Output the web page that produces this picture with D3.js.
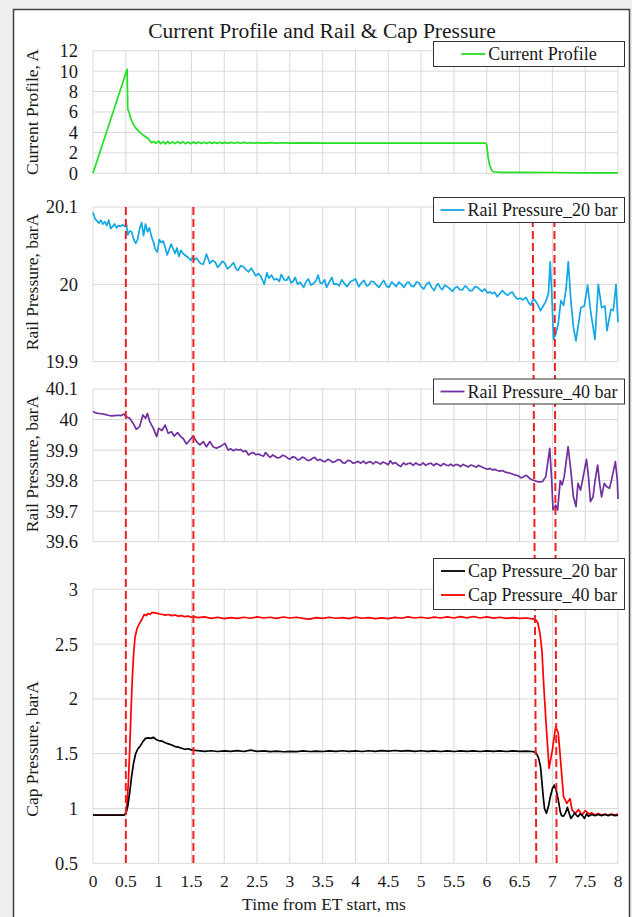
<!DOCTYPE html>
<html>
<head>
<meta charset="utf-8">
<script src="https://cdn.jsdelivr.net/npm/d3@7"></script>
<style>
  body { margin: 0; background: #efefef; }
  svg { display: block; }
</style>
</head>
<body>
<svg id="chart" width="632" height="917"></svg>
<script>
// values: [time ms, value]
const timeTicks = [0, 0.5, 1, 1.5, 2, 2.5, 3, 3.5, 4, 4.5, 5, 5.5, 6, 6.5, 7, 7.5, 8]
const currentTicks = [0, 2, 4, 6, 8, 10, 12]
const rail20Ticks = [19.9, 20, 20.1]
const rail40Ticks = [39.6, 39.7, 39.8, 39.9, 40, 40.1]
const capTicks = [0.5, 1, 1.5, 2, 2.5, 3]

// red markers (slightly slanted in the original, top -> bottom)
const markerTop = [0.5, 1.53, 6.70, 7.03]
const markerBottom = [0.5, 1.53, 6.755, 7.065]

const currentProfile = [[0,0],[0.52,10.18],[0.53,6.25],[0.545,6.05],[0.58,5.3],[0.61,4.85],[0.65,4.45],[0.69,4.15],[0.76,3.75],[0.84,3.4],[0.89,3.0],
  [0.93,3.12],[0.96,2.92],[1.0,3.15],[1.03,2.9],[1.07,3.1],[1.1,2.88],[1.14,3.12],[1.17,2.9],[1.21,3.08],[1.25,2.9],[1.29,3.1],[1.33,2.92],
  [1.37,3.08],[1.41,2.9],[1.45,3.06],[1.49,2.9],[1.53,3.07],[1.57,2.91],[1.61,3.06],[1.65,2.92],[1.69,3.05],[1.73,2.92],[1.77,3.05],[1.81,2.93],
  [1.85,3.04],[1.89,2.93],[1.93,3.04],[1.97,2.93],[2.01,3.03],[2.05,2.93],[2.1,3.03],[2.15,2.94],[2.2,3.02],[2.25,2.94],[2.3,3.02],[2.35,2.94],
  [2.4,3.01],[2.45,2.94],[2.5,3.0],[2.6,2.95],[2.7,3.0],[2.8,2.95],[2.9,2.99],[3.0,2.95],[3.2,2.97],[3.5,2.95],[4.0,2.96],[4.5,2.95],[5.0,2.96],
  [5.5,2.95],[5.98,2.95],[6.0,2.8],[6.02,1.6],[6.04,0.9],[6.07,0.35],[6.1,0.15],[6.2,0.1],[6.6,0.09],[7.0,0.08],[7.5,0.04],[7.8,0.05],[8,0.04]]

const rail20 = [[0,20.093],[0.03,20.085],[0.06,20.082],[0.09,20.079],[0.12,20.083],[0.15,20.078],[0.18,20.081],[0.21,20.076],[0.24,20.083],
  [0.27,20.072],[0.30,20.075],[0.33,20.078],[0.36,20.073],[0.39,20.076],[0.42,20.075],[0.45,20.077],[0.48,20.075],[0.51,20.078],[0.53,20.064],
  [0.56,20.069],[0.59,20.068],[0.62,20.058],[0.65,20.053],[0.68,20.058],[0.71,20.072],[0.74,20.080],[0.77,20.063],[0.80,20.078],[0.83,20.068],
  [0.86,20.073],[0.89,20.062],[0.92,20.055],[0.95,20.045],[0.98,20.042],[1.01,20.058],[1.04,20.054],[1.07,20.056],[1.10,20.048],[1.13,20.038],
  [1.16,20.045],[1.19,20.052],[1.22,20.046],[1.25,20.040],[1.28,20.047],[1.31,20.036],[1.34,20.044],[1.37,20.040],[1.40,20.038],[1.43,20.036],
  [1.46,20.034],[1.49,20.031],[1.52,20.035],[1.55,20.032],[1.58,20.034],[1.60,20.031],[1.64,20.027],[1.68,20.026],[1.73,20.039],[1.78,20.027],
  [1.82,20.031],[1.86,20.029],[1.9,20.022],[1.93,20.025],[1.97,20.030],[2.01,20.027],[2.05,20.020],[2.09,20.023],[2.14,20.028],[2.18,20.020],
  [2.21,20.018],[2.25,20.024],[2.29,20.023],[2.33,20.019],[2.37,20.016],[2.41,20.021],[2.44,20.017],[2.48,20.011],[2.52,20.014],[2.56,20.010],
  [2.61,20.000],[2.65,20.015],[2.68,20.008],[2.72,20.012],[2.76,20.006],[2.80,20.007],[2.84,20.004],[2.87,20.013],[2.91,20.006],[2.95,20.005],
  [2.98,20.010],[3.02,20.002],[3.05,20.004],[3.08,20.009],[3.12,20.000],[3.155,20.003],[3.21,19.996],[3.25,20.004],[3.28,20.007],[3.32,19.999],
  [3.36,20.001],[3.40,20.005],[3.43,20.012],[3.46,20.002],[3.49,20.001],[3.53,20.006],[3.56,19.996],[3.60,20.003],[3.64,20.009],[3.67,20.000],
  [3.71,20.001],[3.75,19.998],[3.79,20.006],[3.83,20.001],[3.87,19.997],[3.92,20.003],[4.0,20.007],[4.05,19.997],[4.09,20.002],[4.13,20.005],
  [4.17,19.998],[4.20,19.999],[4.24,20.004],[4.28,20.003],[4.32,19.999],[4.36,19.996],[4.40,20.002],[4.43,20.005],[4.47,19.998],[4.51,19.996],
  [4.55,20.003],[4.58,20.001],[4.62,19.997],[4.66,20.003],[4.70,20.000],[4.74,19.996],[4.78,20.002],[4.81,20.003],[4.85,19.998],[4.89,19.997],
  [4.93,20.003],[4.97,20.002],[5.00,19.997],[5.04,19.994],[5.08,20.000],[5.12,20.003],[5.16,19.996],[5.20,19.992],[5.23,19.998],[5.26,20.001],
  [5.29,19.996],[5.32,19.993],[5.36,19.999],[5.40,19.997],[5.44,19.994],[5.48,19.991],[5.52,19.996],[5.55,19.997],[5.59,19.993],[5.63,19.993],
  [5.67,19.998],[5.70,19.996],[5.74,19.992],[5.78,19.992],[5.82,19.997],[5.86,19.996],[5.90,19.993],[5.93,19.991],[5.97,19.994],[6.01,19.989],
  [6.05,19.990],[6.09,19.988],[6.12,19.990],[6.16,19.984],[6.20,19.988],[6.24,19.992],[6.28,19.988],[6.32,19.986],[6.36,19.989],[6.39,19.990],
  [6.43,19.984],[6.47,19.981],[6.51,19.982],[6.55,19.980],[6.60,19.983],[6.64,19.976],[6.67,19.973],[6.70,19.979],[6.72,19.981],[6.77,19.975],
  [6.82,19.966],[6.86,19.972],[6.90,19.978],[6.94,19.988],[6.967,20.029],[6.99,19.990],[7.018,19.929],[7.053,19.936],[7.089,19.949],[7.13,19.979],
  [7.171,19.973],[7.21,19.995],[7.242,20.029],[7.282,19.979],[7.32,19.945],[7.359,19.927],[7.40,19.950],[7.435,19.970],[7.486,19.972],[7.537,19.999],
  [7.588,19.962],[7.649,19.929],[7.70,20.000],[7.751,19.970],[7.802,19.972],[7.832,19.940],[7.893,19.968],[7.929,19.966],[7.969,20.000],[8.0,19.951]]

const rail40 = [[0,40.026],[0.04,40.022],[0.08,40.020],[0.13,40.019],[0.18,40.017],[0.23,40.014],[0.28,40.012],[0.33,40.013],[0.38,40.014],
  [0.43,40.013],[0.47,40.018],[0.51,40.009],[0.56,40.004],[0.61,39.988],[0.66,39.968],[0.71,39.977],[0.76,40.015],[0.80,40.004],[0.83,40.020],
  [0.865,39.993],[0.92,39.971],[0.97,39.944],[1.0,39.971],[1.05,39.964],[1.10,39.982],[1.145,39.955],[1.195,39.960],[1.237,39.946],[1.287,39.957],
  [1.338,39.944],[1.374,39.938],[1.425,39.920],[1.476,39.933],[1.527,39.946],[1.578,39.928],[1.629,39.917],[1.68,39.928],[1.73,39.911],[1.78,39.928],
  [1.83,39.911],[1.88,39.906],[1.95,39.913],[2.01,39.922],[2.06,39.900],[2.10,39.904],[2.14,39.898],[2.18,39.903],[2.21,39.900],[2.25,39.902],
  [2.29,39.895],[2.33,39.898],[2.37,39.884],[2.41,39.890],[2.44,39.892],[2.48,39.885],[2.52,39.887],[2.56,39.883],[2.6,39.880],[2.63,39.892],
  [2.67,39.882],[2.70,39.876],[2.74,39.884],[2.77,39.880],[2.81,39.874],[2.85,39.876],[2.89,39.883],[2.93,39.880],[2.97,39.873],[3.0,39.870],
  [3.04,39.878],[3.08,39.876],[3.12,39.868],[3.155,39.870],[3.19,39.877],[3.23,39.873],[3.27,39.866],[3.31,39.867],[3.35,39.874],[3.38,39.876],
  [3.42,39.866],[3.46,39.870],[3.50,39.864],[3.54,39.862],[3.58,39.870],[3.61,39.867],[3.65,39.860],[3.69,39.862],[3.73,39.869],[3.77,39.867],
  [3.81,39.858],[3.84,39.857],[3.88,39.866],[3.92,39.865],[3.96,39.857],[4.0,39.859],[4.04,39.863],[4.08,39.857],[4.12,39.864],[4.16,39.856],
  [4.20,39.861],[4.23,39.862],[4.27,39.855],[4.31,39.862],[4.35,39.858],[4.38,39.854],[4.42,39.861],[4.46,39.857],[4.50,39.852],[4.53,39.865],
  [4.57,39.855],[4.61,39.859],[4.65,39.851],[4.69,39.846],[4.73,39.858],[4.77,39.852],[4.80,39.856],[4.84,39.857],[4.88,39.850],[4.92,39.858],
  [4.95,39.853],[4.99,39.851],[5.03,39.858],[5.07,39.850],[5.11,39.855],[5.15,39.857],[5.19,39.849],[5.23,39.856],[5.27,39.852],[5.30,39.848],
  [5.34,39.856],[5.38,39.851],[5.42,39.849],[5.45,39.854],[5.49,39.848],[5.53,39.853],[5.57,39.851],[5.60,39.846],[5.64,39.853],[5.68,39.849],
  [5.72,39.845],[5.76,39.851],[5.80,39.848],[5.84,39.844],[5.87,39.850],[5.91,39.846],[5.95,39.842],[6.01,39.837],[6.05,39.840],[6.09,39.835],
  [6.12,39.837],[6.16,39.833],[6.20,39.831],[6.24,39.833],[6.28,39.828],[6.32,39.826],[6.36,39.824],[6.40,39.821],[6.44,39.818],[6.48,39.816],
  [6.52,39.809],[6.55,39.811],[6.59,39.817],[6.62,39.815],[6.66,39.806],[6.70,39.802],[6.74,39.799],[6.77,39.797],[6.81,39.796],[6.85,39.797],
  [6.90,39.813],[6.93,39.860],[6.96,39.906],[6.99,39.800],[7.01,39.704],[7.05,39.720],[7.08,39.704],[7.12,39.800],[7.15,39.786],[7.18,39.813],
  [7.24,39.911],[7.28,39.835],[7.32,39.747],[7.36,39.715],[7.39,39.791],[7.43,39.769],[7.47,39.813],[7.52,39.870],[7.55,39.813],[7.58,39.731],
  [7.62,39.747],[7.65,39.800],[7.69,39.851],[7.72,39.791],[7.75,39.747],[7.79,39.791],[7.83,39.780],[7.87,39.775],[7.90,39.800],[7.96,39.862],
  [7.99,39.800],[8.0,39.740]]

const cap20 = [[0,0.94],[0.3,0.94],[0.47,0.94],[0.5,0.95],[0.53,1.02],[0.56,1.15],[0.59,1.3],[0.62,1.42],[0.65,1.5],[0.68,1.54],[0.72,1.57],
  [0.76,1.61],[0.8,1.64],[0.84,1.645],[0.88,1.64],[0.92,1.65],[0.96,1.63],[1.0,1.62],[1.05,1.615],[1.1,1.6],[1.15,1.59],[1.2,1.58],[1.25,1.565],
  [1.3,1.56],[1.35,1.55],[1.4,1.54],[1.45,1.545],[1.5,1.535],[1.55,1.53],[1.6,1.528],[1.7,1.522],[1.8,1.527],[1.9,1.52],[2.0,1.526],[2.1,1.521],
  [2.2,1.528],[2.3,1.52],[2.4,1.532],[2.5,1.522],[2.6,1.526],[2.7,1.519],[2.8,1.524],[2.9,1.518],[3.0,1.522],[3.1,1.519],[3.2,1.525],[3.3,1.52],
  [3.4,1.524],[3.5,1.52],[3.6,1.526],[3.7,1.521],[3.8,1.527],[3.9,1.521],[4.0,1.526],[4.1,1.52],[4.2,1.527],[4.3,1.522],[4.4,1.528],[4.5,1.523],
  [4.6,1.529],[4.7,1.523],[4.8,1.528],[4.9,1.522],[5.0,1.527],[5.1,1.521],[5.2,1.526],[5.3,1.52],[5.4,1.525],[5.5,1.52],[5.6,1.526],[5.7,1.521],
  [5.8,1.525],[5.9,1.52],[6.0,1.525],[6.1,1.521],[6.2,1.526],[6.3,1.52],[6.4,1.525],[6.5,1.521],[6.6,1.524],[6.7,1.52],[6.75,1.51],[6.79,1.46],
  [6.82,1.38],[6.86,1.11],[6.88,1.0],[6.91,0.956],[6.94,1.02],[6.97,1.11],[7.0,1.18],[7.03,1.214],[7.06,1.16],[7.09,1.078],[7.12,0.97],[7.14,0.935],
  [7.17,0.93],[7.2,0.96],[7.23,1.01],[7.26,0.95],[7.28,0.91],[7.31,0.93],[7.34,0.96],[7.37,0.935],[7.39,0.925],[7.42,0.95],[7.45,0.94],[7.49,0.91],
  [7.52,0.95],[7.55,0.93],[7.6,0.945],[7.65,0.935],[7.7,0.945],[7.75,0.935],[7.8,0.945],[7.85,0.935],[7.9,0.945],[7.95,0.935],[8.0,0.94]]

const cap40 = [[0,0.94],[0.3,0.94],[0.47,0.94],[0.5,0.96],[0.52,1.05],[0.54,1.25],[0.56,1.55],[0.58,1.9],[0.6,2.2],[0.62,2.42],[0.64,2.56],
  [0.67,2.64],[0.7,2.68],[0.74,2.72],[0.78,2.77],[0.81,2.76],[0.84,2.78],[0.87,2.77],[0.9,2.79],[0.94,2.785],[0.98,2.78],[1.02,2.775],[1.06,2.77],
  [1.1,2.765],[1.15,2.77],[1.2,2.76],[1.25,2.765],[1.3,2.755],[1.35,2.76],[1.4,2.75],[1.45,2.755],[1.5,2.745],[1.55,2.75],[1.6,2.742],[1.7,2.748],
  [1.8,2.735],[1.9,2.745],[2.0,2.732],[2.1,2.742],[2.2,2.735],[2.3,2.745],[2.4,2.736],[2.5,2.748],[2.6,2.738],[2.7,2.745],[2.8,2.735],[2.9,2.747],
  [3.0,2.738],[3.1,2.745],[3.2,2.735],[3.3,2.728],[3.4,2.742],[3.5,2.735],[3.6,2.745],[3.7,2.736],[3.8,2.742],[3.9,2.733],[4.0,2.746],[4.1,2.736],
  [4.2,2.742],[4.3,2.733],[4.4,2.74],[4.5,2.732],[4.6,2.744],[4.7,2.736],[4.8,2.748],[4.9,2.738],[5.0,2.745],[5.1,2.736],[5.2,2.746],[5.3,2.738],
  [5.4,2.748],[5.5,2.738],[5.6,2.75],[5.7,2.74],[5.8,2.752],[5.9,2.738],[6.0,2.748],[6.1,2.737],[6.2,2.745],[6.3,2.735],[6.4,2.742],[6.5,2.734],
  [6.6,2.738],[6.7,2.73],[6.75,2.72],[6.78,2.69],[6.81,2.6],[6.84,2.45],[6.87,2.11],[6.91,1.716],[6.95,1.367],[7.0,1.534],[7.05,1.746],[7.09,1.69],
  [7.12,1.473],[7.17,1.108],[7.22,1.047],[7.27,1.09],[7.30,0.986],[7.35,0.956],[7.40,0.99],[7.45,0.94],[7.5,0.98],[7.56,0.95],[7.6,0.96],[7.65,0.94],
  [7.7,0.955],[7.75,0.94],[7.8,0.95],[7.85,0.94],[7.9,0.95],[7.95,0.94],[8.0,0.95]]

const svg = d3.select("#chart")
const serif = '"Liberation Serif", "Times New Roman", Times, "DejaVu Serif", serif'
const ink = "#1a1a1a"

// chart area frame
svg.append("rect")
  .attr("x", 13.5).attr("y", 9.5).attr("width", 616).attr("height", 930)
  .attr("fill", "#fff").attr("stroke", "#404040").attr("stroke-width", 1.5)

const x = d3.scaleLinear().domain([0, 8]).range([93, 618])
const fmt = d => String(+d.toFixed(2))

const panels = [
  { top: 50.7, bottom: 173.3, domain: [0, 12], ticks: currentTicks, title: "Current Profile, A", titleY: 112,
    legendY: 41, series: [{ data: currentProfile, color: "#22e022", name: "Current Profile" }] },
  { top: 207, bottom: 361.7, domain: [19.9, 20.1], ticks: rail20Ticks, title: "Rail Pressure, barA", titleY: 282,
    legendY: 197, series: [{ data: rail20, color: "#12a8e4", name: "Rail Pressure_20 bar" }] },
  { top: 389, bottom: 541.7, domain: [39.6, 40.1], ticks: rail40Ticks, title: "Rail Pressure, barA", titleY: 464,
    legendY: 378.5, series: [{ data: rail40, color: "#7030a0", name: "Rail Pressure_40 bar" }] },
  { top: 589.3, bottom: 863.3, domain: [0.5, 3], ticks: capTicks, title: "Cap Pressure, barA", titleY: 749,
    legendY: 558, series: [{ data: cap40, color: "#ff0000", name: "Cap Pressure_40 bar" },
                           { data: cap20, color: "#000000", name: "Cap Pressure_20 bar" }] }
]

panels.forEach(p => {
  p.y = d3.scaleLinear().domain(p.domain).range([p.bottom, p.top])
  const g = svg.append("g")

  // grid
  g.selectAll(".hg").data(p.ticks).enter().append("line")
    .attr("x1", x(0)).attr("x2", x(8))
    .attr("y1", d => p.y(d)).attr("y2", d => p.y(d))
    .attr("stroke", "#d9d9d9").attr("stroke-width", 1)
  g.selectAll(".vg").data(timeTicks).enter().append("line")
    .attr("x1", d => x(d)).attr("x2", d => x(d))
    .attr("y1", p.top).attr("y2", p.bottom)
    .attr("stroke", "#d9d9d9").attr("stroke-width", 1)

  // tick labels
  g.selectAll(".tl").data(p.ticks).enter().append("text")
    .attr("x", 78).attr("y", d => p.y(d)).attr("dy", "0.35em")
    .attr("text-anchor", "end").attr("font-family", serif).attr("font-size", 18.5).attr("fill", ink)
    .text(fmt)

  // axis title
  g.append("text")
    .attr("transform", `translate(38,${p.titleY}) rotate(-90)`)
    .attr("text-anchor", "middle").attr("font-family", serif).attr("font-size", 17.5).attr("fill", ink)
    .text(p.title)

  const line = d3.line().x(d => x(d[0])).y(d => p.y(d[1]))
  p.series.forEach(s => {
    g.append("path").datum(s.data)
      .attr("d", line).attr("fill", "none")
      .attr("stroke", s.color).attr("stroke-width", 1.7).attr("stroke-linejoin", "round")
  })
})

// red dashed markers across the three lower panels
const yTop = panels[1].top, yBot = panels[3].bottom
svg.selectAll(".marker").data(markerTop).enter().append("line")
  .attr("x1", d => x(d)).attr("x2", (d, i) => x(markerBottom[i]))
  .attr("y1", yTop).attr("y2", yBot)
  .attr("stroke", "#f02020").attr("stroke-width", 2).attr("stroke-dasharray", "8,4")

// legends on top
panels.forEach(p => {
  const entries = p.series.slice().sort((a, b) => a.name < b.name ? -1 : 1)
  const h = entries.length === 1 ? 25 : 51
  const lg = svg.append("g")
  lg.append("rect").attr("x", 433.5).attr("y", p.legendY + 0.5).attr("width", 191).attr("height", h)
    .attr("fill", "#fff").attr("stroke", "#333").attr("stroke-width", 1)
  const rowY = i => entries.length === 1 ? p.legendY + 13 : p.legendY + 13 + i * 24
  const texts = entries.map((s, i) =>
    lg.append("text").attr("y", rowY(i)).attr("dy", "0.35em").attr("font-family", serif)
      .attr("font-size", 18).attr("fill", ink).text(s.name))
  const wMax = d3.max(texts, t => t.node().getComputedTextLength())
  const x0 = 433.5 + (191 - (27 + wMax)) / 2
  entries.forEach((s, i) => {
    lg.append("line").attr("x1", x0).attr("x2", x0 + 24).attr("y1", rowY(i)).attr("y2", rowY(i))
      .attr("stroke", s.color).attr("stroke-width", 1.8)
    texts[i].attr("x", x0 + 27)
  })
})

// x axis labels
svg.selectAll(".xl").data(timeTicks).enter().append("text")
  .attr("x", d => x(d)).attr("y", 887)
  .attr("text-anchor", "middle").attr("font-family", serif).attr("font-size", 17.5).attr("fill", ink)
  .text(fmt)

svg.append("text").attr("x", 324).attr("y", 910).attr("text-anchor", "middle")
  .attr("font-family", serif).attr("font-size", 17.5).attr("fill", ink).text("Time from ET start, ms")

svg.append("text").attr("x", 322).attr("y", 38).attr("text-anchor", "middle")
  .attr("font-family", serif).attr("font-size", 21.5).attr("fill", ink).text("Current Profile and Rail & Cap Pressure")
</script>
</body>
</html>
